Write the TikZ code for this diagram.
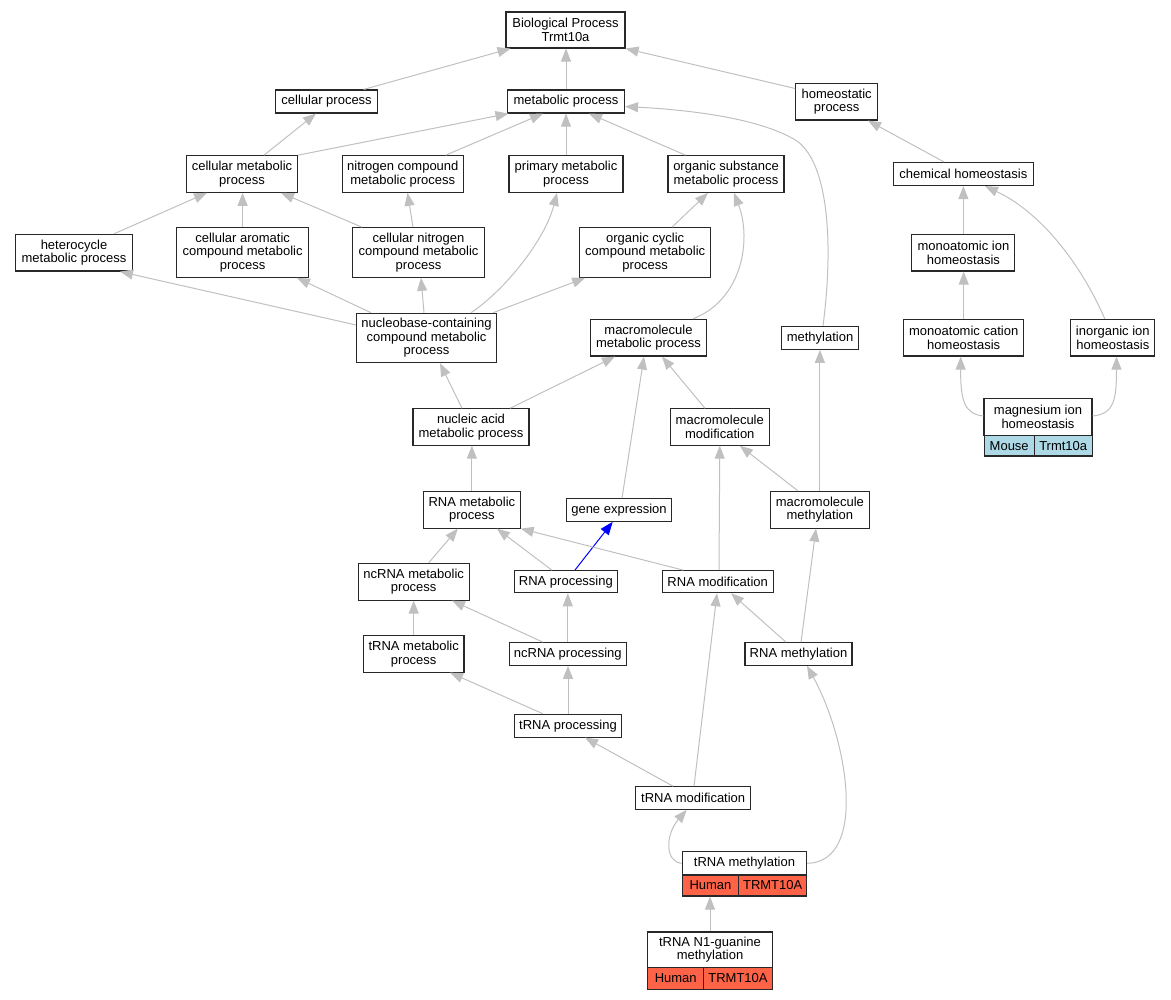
\documentclass[tikz,border=0pt]{standalone}
\usepackage{fontspec}
\setmainfont{Liberation Sans}
\usepackage{tikz}
\usetikzlibrary{arrows.meta}
\definecolor{edgegray}{RGB}{192, 192, 192}
\definecolor{boxline}{RGB}{40, 40, 40}
\definecolor{humanred}{RGB}{255, 99, 71}
\definecolor{mouseblue}{RGB}{173, 216, 230}

\begin{document}
\begin{tikzpicture}[x=1pt, y=-1pt,
  box/.style={draw=boxline, line width=1.1pt, fill=white, align=center, inner sep=0pt, font=\fontsize{13}{13.5}\selectfont},
  cell/.style={box, minimum height=21pt},
  goedge/.style={draw=edgegray, line width=1pt, -{Triangle[length=13pt, width=10pt]}},
  hitedge/.style={draw=blue, line width=1pt, -{Triangle[length=13pt, width=10pt]}}]
  \useasboundingbox (0,0) rectangle (1171,1000);

  % Top levels
  \node[box, minimum width=119pt, minimum height=36pt] (bp) at (565.5,30) {Biological Process\\Trmt10a};
  \node[box, minimum width=102pt, minimum height=23pt] (cellproc) at (326.6,101.5) {cellular process};
  \node[box, minimum width=117pt, minimum height=23pt] (metab) at (566,101.5) {metabolic process};
  \node[box, minimum width=82pt, minimum height=36.5pt] (homeo) at (836.7,101.8) {homeostatic\\process};
  \node[box, minimum width=111pt, minimum height=36.6pt] (cellmet) at (242,174) {cellular metabolic\\process};
  \node[box, minimum width=120.5pt, minimum height=36.6pt] (nitro) at (402.8,174) {nitrogen compound\\metabolic process};
  \node[box, minimum width=114pt, minimum height=36.6pt] (primary) at (566,174) {primary metabolic\\process};
  \node[box, minimum width=116pt, minimum height=36.6pt] (orgsub) at (726,174) {organic substance\\metabolic process};
  \node[box, minimum width=140pt, minimum height=23pt] (chemhom) at (963.4,174) {chemical homeostasis};
  \node[box, minimum width=117pt, minimum height=36.7pt] (hetero) at (74,252.7) {heterocycle\\metabolic process};
  \node[box, minimum width=131.7pt, minimum height=49.6pt] (cellarom) at (242.6,252.5) {cellular aromatic\\compound metabolic\\process};
  \node[box, minimum width=131.3pt, minimum height=49.6pt] (cellnitro) at (418.5,252.5) {cellular nitrogen\\compound metabolic\\process};
  \node[box, minimum width=131.3pt, minimum height=49.6pt] (orgcyc) at (645.2,252.5) {organic cyclic\\compound metabolic\\process};
  \node[box, minimum width=103pt, minimum height=36.7pt] (monoion) at (963.4,252.7) {monoatomic ion\\homeostasis};

  % Middle levels
  \node[box, minimum width=139.7pt, minimum height=49.4pt] (nucleob) at (426.5,338) {nucleobase-containing\\compound metabolic\\process};
  \node[box, minimum width=116pt, minimum height=36.7pt] (macromet) at (648.5,337.7) {macromolecule\\metabolic process};
  \node[box, minimum width=77pt, minimum height=23pt] (methyl) at (820,337.8) {methylation};
  \node[box, minimum width=120pt, minimum height=36.7pt] (monocat) at (963.7,337.7) {monoatomic cation\\homeostasis};
  \node[box, minimum width=84pt, minimum height=36.7pt] (inorg) at (1112.8,337.7) {inorganic ion\\homeostasis};
  \node[box, minimum width=108pt, minimum height=36.6pt] (magnes) at (1038,417) {magnesium ion\\homeostasis};
  \node[cell, fill=mouseblue, minimum width=50.3pt, minimum height=20.7pt] (magnesL) at (1009.2,445.65) {Mouse};
  \node[cell, fill=mouseblue, minimum width=57.7pt, minimum height=20.7pt] (magnesR) at (1063.2,445.65) {Trmt10a};
  \node[box, minimum width=116pt, minimum height=36.3pt] (nucacid) at (471,427) {nucleic acid\\metabolic process};
  \node[box, minimum width=99pt, minimum height=36.3pt] (macromod) at (719.8,427) {macromolecule\\modification};
  \node[box, minimum width=96.4pt, minimum height=36.7pt] (rnamet) at (471.9,509.7) {RNA metabolic\\process};
  \node[box, minimum width=105.6pt, minimum height=22.6pt] (geneexp) at (619,510) {gene expression};
  \node[box, minimum width=99pt, minimum height=36.7pt] (macrometh) at (819.9,509.7) {macromolecule\\methylation};

  % Lower levels
  \node[box, minimum width=110.8pt, minimum height=36.7pt] (ncrnamet) at (413.7,581.7) {ncRNA metabolic\\process};
  \node[box, minimum width=102.6pt, minimum height=22pt] (rnaproc) at (565.9,581.7) {RNA processing};
  \node[box, minimum width=111pt, minimum height=22pt] (rnamod) at (717.7,581.7) {RNA modification};
  \node[box, minimum width=100.6pt, minimum height=36.3pt] (trnamet) at (413.7,653.9) {tRNA metabolic\\process};
  \node[box, minimum width=117.5pt, minimum height=22.6pt] (ncrnaproc) at (567.8,654) {ncRNA processing};
  \node[box, minimum width=107pt, minimum height=22.6pt] (rnameth) at (798.5,654) {RNA methylation};
  \node[box, minimum width=106.7pt, minimum height=22.7pt] (trnaproc) at (568,725.7) {tRNA processing};
  \node[box, minimum width=115pt, minimum height=22.6pt] (trnamod) at (693.2,798) {tRNA modification};
  \node[box, minimum width=124.4pt, minimum height=23.3pt] (trnameth) at (744.5,863.35) {tRNA methylation};
  \node[cell, fill=humanred, minimum width=56.4pt] (trnamethL) at (710.5,885.5) {Human};
  \node[cell, fill=humanred, minimum width=68pt] (trnamethR) at (772.7,885.5) {TRMT10A};
  \node[box, minimum width=124.6pt, minimum height=35.7pt] (trnan1) at (710,949.85) {tRNA N1-guanine\\methylation};
  \node[cell, fill=humanred, minimum width=56pt, minimum height=21.6pt] (trnan1L) at (675.7,978.5) {Human};
  \node[cell, fill=humanred, minimum width=68.6pt, minimum height=21.6pt] (trnan1R) at (738,978.5) {TRMT10A};

  % Edges, child to parent
  \draw[goedge] ([xshift=37pt]cellproc.north) -- ([xshift=-55pt]bp.south);
  \draw[goedge] (metab.north) -- (metab.north |- bp.south);
  \draw[goedge] ([yshift=-5.5pt]homeo.north west) -- (bp.south east);
  \draw[goedge] ([xshift=22pt]cellmet.north) -- ([xshift=-10.6pt]cellproc.south);
  \draw[goedge] (cellmet.north east) -- ([xshift=1.5pt]metab.south west);
  \draw[goedge] ([xshift=43pt]nitro.north) -- ([xshift=-23pt]metab.south);
  \draw[goedge] (primary.north) -- (metab.south);
  \draw[goedge] ([xshift=-40.5pt]orgsub.north) -- ([xshift=23pt]metab.south);
  \draw[goedge] ([xshift=3pt]methyl.north) .. controls (833,250) and (830,165) .. (797,141)
    .. controls (760,118) and (690,110) .. ([yshift=-5pt]metab.east);
  \draw[goedge] ([xshift=-19.4pt]chemhom.north) -- ([xshift=31.3pt]homeo.south);
  \draw[goedge] ([xshift=40pt]hetero.north) -- ([xshift=-35pt]cellmet.south);
  \draw[goedge] (cellarom.north) -- (cellarom.north |- cellmet.south);
  \draw[goedge] ([xshift=-56.5pt]cellnitro.north) -- ([xshift=39pt]cellmet.south);
  \draw[goedge] ([xshift=-5.5pt]cellnitro.north) -- ([xshift=4.7pt]nitro.south);
  \draw[goedge] ([yshift=13pt]nucleob.west) -- ([xshift=46pt]hetero.south);
  \draw[goedge] ([xshift=-55.5pt]nucleob.north) -- ([xshift=54.4pt]cellarom.south);
  \draw[goedge] ([xshift=-2.5pt]nucleob.north) -- ([xshift=2.5pt]cellnitro.south);
  \draw[goedge] ([xshift=44.5pt]nucleob.north) .. controls (505,290) and (545,240) .. ([xshift=-9pt]primary.south);
  \draw[goedge] ([xshift=66.5pt]nucleob.north) -- ([xshift=-60pt]orgcyc.south);
  \draw[goedge] ([xshift=26.8pt]orgcyc.north) -- ([xshift=-18pt]orgsub.south);
  \draw[goedge] ([xshift=44.5pt]macromet.north) .. controls (742,300) and (752,240) .. ([xshift=8pt]orgsub.south);
  \draw[goedge] (monoion.north) -- (monoion.north |- chemhom.south);
  \draw[goedge] ([xshift=-8pt]inorg.north) .. controls (1080,262) and (1040,212) .. ([xshift=21.6pt]chemhom.south);
  \draw[goedge] (monocat.north) -- (monocat.north |- monoion.south);
  \draw[goedge] ([yshift=1pt]magnes.west) .. controls (964,414) and (960.5,400) .. ([xshift=-3pt]monocat.south);
  \draw[goedge] ([yshift=1pt]magnes.east) .. controls (1114,414) and (1116.5,400) .. ([xshift=3.7pt]inorg.south);
  \draw[goedge] ([xshift=-9pt]nucacid.north) -- ([xshift=13.5pt]nucleob.south);
  \draw[goedge] ([xshift=39pt]nucacid.north) -- ([xshift=-33.5pt]macromet.south);
  \draw[goedge] (rnamet.north) -- (rnamet.north |- nucacid.south);
  \draw[goedge] ([xshift=3pt]geneexp.north) -- ([xshift=-4.5pt]macromet.south);
  \draw[goedge] ([xshift=-14.8pt]macromod.north) -- ([xshift=13.5pt]macromet.south);
  \draw[goedge] ([xshift=-22pt]macrometh.north) -- ([xshift=20pt]macromod.south);
  \draw[goedge] (macrometh.north) -- (macrometh.north |- methyl.south);
  \draw[goedge] ([xshift=15pt]ncrnamet.north) -- ([xshift=-14pt]rnamet.south);
  \draw[goedge] ([xshift=-14pt]rnaproc.north) -- ([xshift=25pt]rnamet.south);
  \draw[hitedge] ([xshift=9pt]rnaproc.north) -- ([xshift=-6.3pt]geneexp.south);
  \draw[goedge] ([xshift=-34.4pt]rnamod.north) -- (rnamet.south east);
  \draw[goedge] ([xshift=1.3pt]rnamod.north) -- (macromod.south);
  \draw[goedge] (trnamet.north) -- (trnamet.north |- ncrnamet.south);
  \draw[goedge] ([xshift=-24.8pt]ncrnaproc.north) -- ([xshift=38.3pt]ncrnamet.south);
  \draw[goedge] (ncrnaproc.north) -- (ncrnaproc.north |- rnaproc.south);
  \draw[goedge] ([xshift=-12.5pt]rnameth.north) -- ([xshift=13.3pt]rnamod.south);
  \draw[goedge] ([xshift=2.5pt]rnameth.north) -- ([xshift=-3.9pt]macrometh.south);
  \draw[goedge] ([xshift=-25pt]trnaproc.north) -- ([xshift=36.3pt]trnamet.south);
  \draw[goedge] (trnaproc.north) -- (trnaproc.north |- ncrnaproc.south);
  \draw[goedge] ([xshift=-20.2pt]trnamod.north) -- ([xshift=17pt]trnaproc.south);
  \draw[goedge] ([xshift=0.8pt]trnamod.north) -- ([xshift=-0.7pt]rnamod.south);
  \draw[goedge] (trnameth.west) .. controls (665,862) and (665,835) .. ([xshift=-6.5pt]trnamod.south);
  \draw[goedge] (trnameth.east) .. controls (868,862) and (848,740) .. ([xshift=8.5pt]rnameth.south);
  \draw[goedge] (trnan1.north) -- (trnan1.north |- trnamethL.south);
\end{tikzpicture}
\end{document}
